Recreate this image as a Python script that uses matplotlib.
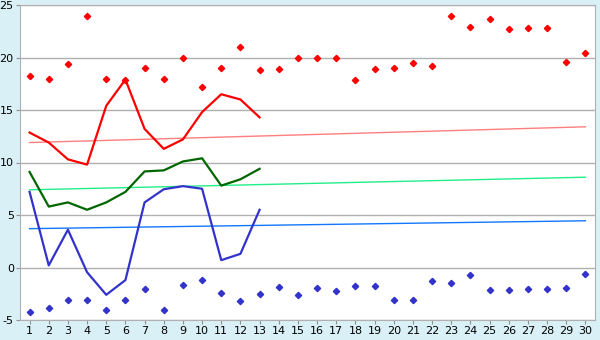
import matplotlib as mpl
import matplotlib.pyplot as plt

mpl.rcParams.update({'font.size': 8,
                     'font.family': 'DejaVu Sans',
                     'axes.unicode_minus': False,
                    })

days = list(range(1, 31))
line_days = list(range(1, 14))

red_pts = [18.2, 18.0, 19.4, 24.0, 18.0, 17.9, 19.0, 18.0, 20.0, 17.2,
           19.0, 21.0, 18.8, 18.9, 20.0, 20.0, 20.0, 17.9, 18.9, 19.0,
           19.5, 19.2, 24.0, 22.9, 23.7, 22.7, 22.8, 22.8, 19.6, 20.4]
blue_pts = [-4.2, -3.85, -3.05, -3.05, -4.0, -3.05, -2.0, -4.0, -1.65, -1.15,
            -2.4, -3.2, -2.5, -1.85, -2.6, -1.95, -2.2, -1.75, -1.75, -3.1,
            -3.1, -1.3, -1.45, -0.7, -2.1, -2.1, -2.05, -2.05, -1.95, -0.6]

red_line = [12.85, 11.9, 10.3, 9.8, 15.4, 17.9, 13.2, 11.3, 12.2, 14.8, 16.5, 16.0, 14.3]
green_line = [9.1, 5.8, 6.2, 5.5, 6.2, 7.2, 9.15, 9.25, 10.1, 10.4, 7.8, 8.4, 9.4]
blue_line = [7.2, 0.2, 3.6, -0.45, -2.6, -1.2, 6.2, 7.45, 7.75, 7.5, 0.7, 1.3, 5.5]

# trend lines: value at day 1 and day 30
trend_x = [1, 30]
red_trend = [11.9, 13.4]
green_trend = [7.4, 8.6]
blue_trend = [3.7, 4.45]

fig = plt.figure(figsize=(6, 3.4), dpi=100)
fig.patch.set_facecolor('#d9f0f6')
ax = fig.add_axes([20/600, 20/340, 575/600, 315/340])
ax.set_facecolor('white')

ax.plot(trend_x, red_trend, color='#ff7f7f', lw=1)
ax.plot(trend_x, green_trend, color='#22ee88', lw=1)
ax.plot(trend_x, blue_trend, color='#1177ff', lw=1)

ax.plot(line_days, red_line, color='#ff0000', lw=1.6)
ax.plot(line_days, green_line, color='#006600', lw=1.6)
ax.plot(line_days, blue_line, color='#3333cc', lw=1.6)

ax.plot(days, red_pts, ls='none', marker='D', ms=3.2, color='#ff0000')
ax.plot(days, blue_pts, ls='none', marker='D', ms=3.2, color='#3333cc')

ax.set_xlim(0.5, 30.5)
ax.set_ylim(-5, 25)
ax.set_xticks(days)
ax.set_yticks(range(-5, 26, 5))
ax.grid(axis='y', color='#b0b0b0', lw=1)
ax.set_axisbelow(True)
for s in ax.spines.values():
    s.set_color('#b0b0b0')
ax.tick_params(colors='#909090', labelcolor='black', length=3, pad=1.5)

fig.savefig('out.png', facecolor=fig.get_facecolor())
